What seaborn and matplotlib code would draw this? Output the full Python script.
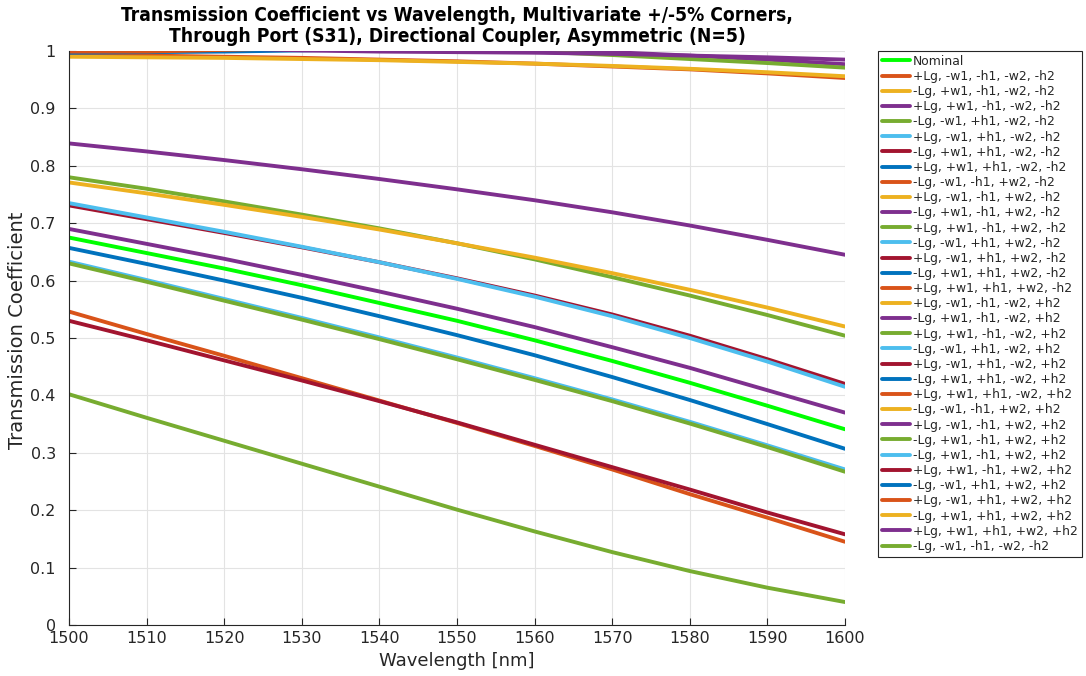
import matplotlib
matplotlib.use("Agg")
import matplotlib.pyplot as plt
import seaborn as sns

# Wavelength grid [nm]
wavelength = [1500, 1510, 1520, 1530, 1540, 1550, 1560, 1570, 1580, 1590, 1600]

# Transmission coefficient, through port (S31)
nominal = [0.675, 0.648, 0.621, 0.592, 0.561, 0.530, 0.496, 0.460, 0.422, 0.382, 0.341]
s02 = [1.028, 1.029, 1.029, 1.028, 1.026, 1.024, 1.021, 1.018, 1.014, 1.010, 1.006]
s03 = [1.042, 1.043, 1.043, 1.042, 1.040, 1.037, 1.034, 1.030, 1.026, 1.021, 1.016]
s04 = [1.021, 1.022, 1.022, 1.021, 1.020, 1.018, 1.016, 1.013, 1.010, 1.008, 1.006]
s05 = [1.035, 1.036, 1.036, 1.035, 1.033, 1.031, 1.028, 1.024, 1.020, 1.016, 1.011]
s06 = [1.052, 1.053, 1.053, 1.052, 1.050, 1.047, 1.044, 1.040, 1.035, 1.030, 1.024]
s07 = [1.047, 1.048, 1.048, 1.047, 1.045, 1.042, 1.039, 1.035, 1.031, 1.026, 1.020]
s08 = [1.060, 1.061, 1.061, 1.060, 1.058, 1.055, 1.051, 1.047, 1.042, 1.036, 1.030]
s09 = [1.014, 1.016, 1.017, 1.017, 1.016, 1.015, 1.013, 1.011, 1.009, 1.007, 1.006]
s10 = [1.024, 1.026, 1.027, 1.027, 1.026, 1.024, 1.022, 1.019, 1.016, 1.012, 1.008]
s11 = [1.012, 1.013, 1.013, 1.012, 1.010, 1.007, 1.003, 0.998, 0.992, 0.985, 0.977]
s12 = [1.016, 1.017, 1.016, 1.014, 1.010, 1.005, 0.999, 0.993, 0.986, 0.979, 0.971]
s13 = [1.038, 1.039, 1.039, 1.038, 1.036, 1.033, 1.030, 1.026, 1.022, 1.017, 1.012]
s14 = [1.031, 1.032, 1.032, 1.031, 1.029, 1.027, 1.024, 1.021, 1.017, 1.013, 1.008]
s15 = [1.045, 1.047, 1.047, 1.046, 1.044, 1.041, 1.038, 1.034, 1.029, 1.024, 1.018]
s16 = [0.993, 0.992, 0.990, 0.988, 0.985, 0.982, 0.978, 0.973, 0.968, 0.961, 0.953]
s17 = [0.990, 0.989, 0.988, 0.986, 0.984, 0.981, 0.978, 0.974, 0.969, 0.963, 0.956]
s18 = [0.690, 0.664, 0.638, 0.610, 0.581, 0.551, 0.519, 0.484, 0.448, 0.409, 0.370]
s19 = [0.780, 0.760, 0.738, 0.715, 0.691, 0.665, 0.637, 0.606, 0.574, 0.540, 0.504]
s20 = [0.633, 0.601, 0.568, 0.535, 0.501, 0.466, 0.430, 0.393, 0.354, 0.313, 0.271]
s21 = [0.731, 0.707, 0.683, 0.658, 0.632, 0.604, 0.574, 0.541, 0.504, 0.463, 0.420]
s22 = [0.657, 0.629, 0.600, 0.570, 0.538, 0.505, 0.470, 0.432, 0.392, 0.350, 0.307]
s23 = [0.546, 0.507, 0.469, 0.430, 0.391, 0.352, 0.312, 0.271, 0.228, 0.187, 0.145]
s24 = [0.771, 0.752, 0.732, 0.711, 0.689, 0.665, 0.640, 0.613, 0.584, 0.553, 0.520]
s25 = [0.839, 0.825, 0.810, 0.794, 0.777, 0.759, 0.740, 0.719, 0.696, 0.671, 0.645]
s26 = [0.630, 0.598, 0.565, 0.532, 0.498, 0.463, 0.427, 0.390, 0.351, 0.310, 0.267]
s27 = [0.735, 0.710, 0.685, 0.659, 0.632, 0.603, 0.572, 0.538, 0.500, 0.459, 0.415]
s28 = [0.530, 0.496, 0.461, 0.426, 0.390, 0.353, 0.314, 0.275, 0.236, 0.196, 0.158]
s29 = [0.997, 0.998, 0.999, 1.001, 1.003, 1.006, 1.008, 1.010, 1.011, 1.012, 1.012]
s30 = [0.999, 0.999, 1.002, 1.005, 1.008, 1.010, 1.012, 1.013, 1.014, 1.014, 1.014]
s31 = [1.056, 1.058, 1.058, 1.057, 1.055, 1.052, 1.048, 1.044, 1.039, 1.033, 1.027]
s32 = [1.008, 1.007, 1.005, 1.001, 0.999, 0.998, 0.997, 0.995, 0.992, 0.989, 0.985]
s33 = [0.402, 0.361, 0.321, 0.281, 0.241, 0.201, 0.163, 0.127, 0.094, 0.065, 0.040]

corner_labels = [
    "+Lg, -w1, -h1, -w2, -h2", "-Lg, +w1, -h1, -w2, -h2", "+Lg, +w1, -h1, -w2, -h2",
    "-Lg, -w1, +h1, -w2, -h2", "+Lg, -w1, +h1, -w2, -h2", "-Lg, +w1, +h1, -w2, -h2",
    "+Lg, +w1, +h1, -w2, -h2", "-Lg, -w1, -h1, +w2, -h2", "+Lg, -w1, -h1, +w2, -h2",
    "-Lg, +w1, -h1, +w2, -h2", "+Lg, +w1, -h1, +w2, -h2", "-Lg, -w1, +h1, +w2, -h2",
    "+Lg, -w1, +h1, +w2, -h2", "-Lg, +w1, +h1, +w2, -h2", "+Lg, +w1, +h1, +w2, -h2",
    "+Lg, -w1, -h1, -w2, +h2", "-Lg, +w1, -h1, -w2, +h2", "+Lg, +w1, -h1, -w2, +h2",
    "-Lg, -w1, +h1, -w2, +h2", "+Lg, -w1, +h1, -w2, +h2", "-Lg, +w1, +h1, -w2, +h2",
    "+Lg, +w1, +h1, -w2, +h2", "-Lg, -w1, -h1, +w2, +h2", "+Lg, -w1, -h1, +w2, +h2",
    "-Lg, +w1, -h1, +w2, +h2", "-Lg, +w1, -h1, +w2, +h2", "+Lg, +w1, -h1, +w2, +h2",
    "-Lg, -w1, +h1, +w2, +h2", "+Lg, -w1, +h1, +w2, +h2", "-Lg, +w1, +h1, +w2, +h2",
    "+Lg, +w1, +h1, +w2, +h2", "-Lg, -w1, -h1, -w2, -h2",
]
corner_series = [s02, s03, s04, s05, s06, s07, s08, s09, s10, s11, s12, s13, s14, s15, s16,
                 s17, s18, s19, s20, s21, s22, s23, s24, s25, s26, s27, s28, s29, s30, s31,
                 s32, s33]

# MATLAB-style colour order, starting from the second entry
color_order = ["#0072BD", "#D95319", "#EDB120", "#7E2F8E", "#77AC30", "#4DBEEE", "#A2142F"]
nominal_color = "#00FF00"

sns.set_theme(style="white")
plt.rcParams["font.family"] = ["DejaVu Sans"]

fig = plt.figure(figsize=(10.86, 6.76), dpi=100)
ax = fig.add_axes([69 / 1086, 1 - 625 / 676, (845 - 69) / 1086, (625 - 51) / 676])

lw = 2.8
sns.lineplot(x=wavelength, y=nominal, color=nominal_color, linewidth=lw, label="Nominal", ax=ax)
for i, (vals, lab) in enumerate(zip(corner_series, corner_labels)):
    sns.lineplot(x=wavelength, y=vals, color=color_order[(i + 1) % 7], linewidth=lw,
                 label=lab, ax=ax)

ax.set_xlim(1500, 1600)
ax.set_ylim(0, 1)
ax.set_xticks(list(range(1500, 1601, 10)))
ax.set_yticks([i / 10 for i in range(11)])
ax.set_yticklabels(["0", "0.1", "0.2", "0.3", "0.4", "0.5", "0.6", "0.7", "0.8", "0.9", "1"])
ax.grid(True, color="#e3e3e3", linewidth=0.8)
ax.set_axisbelow(True)
for side in ["top", "right"]:
    ax.spines[side].set_visible(False)
for side in ["left", "bottom"]:
    ax.spines[side].set_color("#262626")
    ax.spines[side].set_linewidth(0.8)
ax.tick_params(axis="both", direction="in", length=5, width=0.8, colors="#262626",
               labelsize=11.5, left=True, bottom=True)
ax.tick_params(axis="y", pad=9.5)
ax.tick_params(axis="x", pad=4)

ax.set_xlabel("Wavelength [nm]", fontsize=13, color="#262626", labelpad=5)
ax.set_ylabel("Transmission Coefficient", fontsize=14, color="#262626")
ax.yaxis.set_label_coords(-0.054, 0.514)
ax.set_title("Transmission Coefficient vs Wavelength, Multivariate +/-5% Corners,\n"
             "Through Port (S31), Directional Coupler, Asymmetric (N=5)",
             fontsize=13.8, fontweight="bold",
             family=["DejaVu Sans Condensed", "Liberation Sans Narrow", "DejaVu Sans"],
             fontstretch="condensed", color="black", linespacing=1.15, pad=6.5)

leg = ax.legend(loc="upper left", bbox_to_anchor=(878 / 1086, 1 - 51 / 676),
                bbox_transform=fig.transFigure, fontsize=8.9, frameon=True, fancybox=False,
                framealpha=1, edgecolor="#262626", handlelength=2.3, handletextpad=0.25,
                labelspacing=0.175, borderpad=0.3, borderaxespad=0)
leg.get_frame().set_linewidth(0.8)
for t in leg.get_texts():
    t.set_color("#262626")

fig.savefig("out.png", dpi=100)
